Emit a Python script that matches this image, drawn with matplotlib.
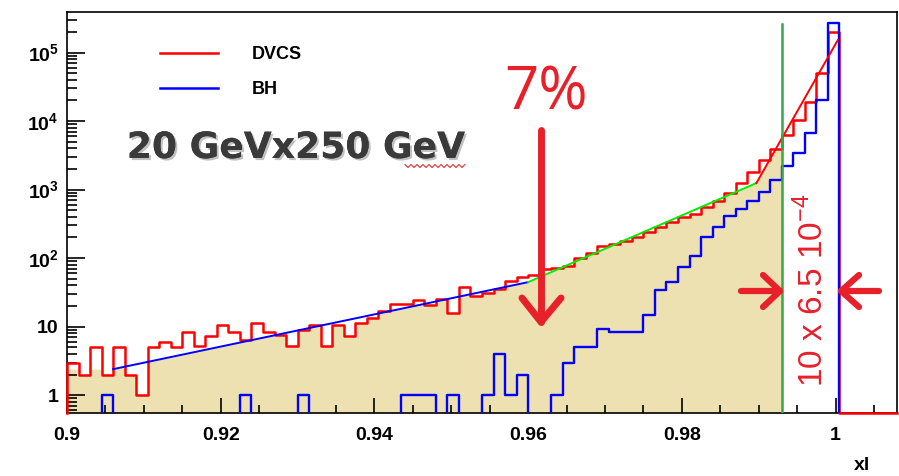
import numpy as np
import matplotlib
matplotlib.use('Agg')
import matplotlib.pyplot as plt
import matplotlib.patheffects as pe
from matplotlib.lines import Line2D
from matplotlib.ticker import LogLocator, MultipleLocator, NullFormatter

# xl distributions, 72 bins of 0.0015 from 0.9
X_LO, BIN_W, N_BINS = 0.9, 0.0015, 72
dvcs_counts = [3, 2, 5, 2, 5, 2, 1, 5, 6, 5,
               8.5, 5.3, 7.4, 10.5, 8.4, 6.4, 11.4, 8.4, 7.5, 5.3,
               8.9, 10.5, 5.2, 10.5, 7.3, 11.4, 13.6, 16.9, 21.5, 21.5,
               24.7, 20.6, 25.7, 15.8, 38, 27.8, 31.5, 36, 47, 53.5,
               56.5, 70, 72, 78, 100, 120, 150, 160, 180, 205,
               240, 285, 335, 400, 440, 550, 685, 900, 1260, 1830,
               2700, 3860, 6300, 10300, 18700, 51000, 200000, 0, 0, 0,
               0, 0]
bh_counts = [0, 0, 0, 1, 0, 0, 0, 0, 0, 0,
             0, 0, 0, 0, 0, 1, 0, 0, 0, 0,
             1, 0, 0, 0, 0, 0, 0, 0, 0, 1,
             1, 1, 0, 1, 0, 0, 1, 4, 1, 2,
             0, 0, 1, 3, 5, 5, 9.4, 8.4, 8.4, 8.4,
             14.7, 34, 45, 73, 107, 204, 280, 410, 520, 680,
             920, 1400, 2200, 3370, 6600, 20400, 270000, 0, 0, 0,
             0, 0]

# exponential fits (straight in log y), end points
fit_x = [0.906, 0.960, 0.9897, 1.0003]
fit_y = [2.4, 44.6, 1244, 1.52e5]
fit_colors = ['#0000ff', '#00ee00', '#ff0000']
X_CUT = 0.993

YMIN, YMAX = 0.55, 3.9e5
RED, BLUE, ANNO = '#ff0000', '#0000ff', '#e8202a'
FILL = '#ede0b1'

plt.rcParams.update({'mathtext.fontset': 'custom',
                     'mathtext.rm': 'Liberation Sans',
                     'mathtext.bf': 'Liberation Sans:bold'})

W, H = 899, 476
fig = plt.figure(figsize=(W / 100, H / 100), dpi=100)
ax = fig.add_axes([67 / W, 63 / H, 830 / W, 401 / H])
ax.set_yscale('log')
ax.set_xlim(X_LO, X_LO + N_BINS * BIN_W)
ax.set_ylim(YMIN, YMAX)

edges = X_LO + BIN_W * np.arange(N_BINS + 1)


def outline(counts, floor):
    v = np.asarray(counts, float)
    v = np.where(v > 0, v, floor)
    xs = np.repeat(edges, 2)
    ys = np.concatenate([[floor], np.repeat(v, 2), [floor]])
    return xs, ys


# shaded region below the fit up to the cut
xf = np.linspace(X_LO, X_CUT, 3000)
idx = np.clip(((xf - X_LO) / BIN_W).astype(int), 0, N_BINS - 1)
hist_f = np.asarray(dvcs_counts, float)[idx]
env = 10 ** np.interp(xf, fit_x, np.log10(fit_y))
top = np.minimum(hist_f, env)
ax.fill_between(xf, YMIN, top, color=FILL, lw=0, zorder=1)

xs, ys = outline(dvcs_counts, YMIN)
ax.plot(xs, ys, color=RED, lw=1.8, zorder=3, clip_on=False)
xs, ys = outline(bh_counts, 0.3)
ax.plot(xs, ys, color=BLUE, lw=1.7, zorder=3.2)

for i, c in enumerate(fit_colors):
    ax.plot(fit_x[i:i + 2], fit_y[i:i + 2], color=c, lw=1.4, zorder=4)

ax.plot([X_CUT, X_CUT], [YMIN, 2.6e5], color='#35a84a', lw=1.8, zorder=5)

# axes styling
ax.xaxis.set_major_locator(MultipleLocator(0.02))
ax.xaxis.set_minor_locator(MultipleLocator(0.005))
ax.set_xticks(np.arange(0.9, 1.001, 0.02),
              ['0.9', '0.92', '0.94', '0.96', '0.98', '1'])
ax.yaxis.set_major_locator(LogLocator(base=10, numticks=10))
ax.yaxis.set_minor_locator(LogLocator(base=10, subs=np.arange(2, 10), numticks=20))
ax.yaxis.set_minor_formatter(NullFormatter())
ax.set_yticks([1, 10, 1e2, 1e3, 1e4, 1e5],
              ['1', '10', r'$\mathbf{10^{2}}$', r'$\mathbf{10^{3}}$',
               r'$\mathbf{10^{4}}$', r'$\mathbf{10^{5}}$'])
for lab in ax.get_xticklabels() + ax.get_yticklabels():
    lab.set_fontfamily('Liberation Sans')
    lab.set_fontweight('bold')
    lab.set_fontsize(14)
ax.tick_params(axis='x', which='major', direction='in', length=11, width=1.2, pad=10)
ax.tick_params(axis='x', which='minor', direction='in', length=6, width=1.2)
ax.tick_params(axis='y', which='major', direction='in', length=13, width=1.2, pad=6)
ax.tick_params(axis='y', which='minor', direction='in', length=7, width=1.2)
for sp in ax.spines.values():
    sp.set_linewidth(1.2)
ax.set_ylim(YMIN, YMAX)

fig.text(862 / W, 1 - 466 / H, 'xl', ha='center', va='center',
         family='Liberation Sans', weight='bold', fontsize=14)

ax.legend(handles=[Line2D([], [], color=RED, lw=1.8), Line2D([], [], color=BLUE, lw=1.8)],
          labels=['DVCS', 'BH'], loc='upper left',
          bbox_to_anchor=(160 / W, 1 - 46 / H), bbox_transform=fig.transFigure,
          frameon=False, prop=dict(family='Liberation Sans', weight='bold', size=13),
          handlelength=3.2, handletextpad=1.9, labelspacing=1.0,
          borderpad=0, borderaxespad=0)


def px(x, y):
    return x / W, 1 - y / H


# beam energy label
fig.text(*px(296, 148), '20 GeVx250 GeV', ha='center', va='center',
         family='DejaVu Sans', weight='bold', fontsize=26, color='#3a3a3a',
         path_effects=[pe.withSimplePatchShadow(offset=(1.5, -1.5),
                                                shadow_rgbFace='#999999', alpha=0.6),
                       pe.Normal()])
sq_x = np.arange(405, 466, 3)
sq_y = 166 + np.where(np.arange(sq_x.size) % 2, 1.5, -1.5)
fig.add_artist(Line2D(sq_x / W, 1 - sq_y / H, color='#e03030', lw=0.8))

# 7% arrow
fig.text(*px(546, 93), '7%', ha='center', va='center', family='Open Sans',
         fontsize=43, color=ANNO)
arrow_kw = dict(color=ANNO, lw=5, solid_capstyle='round', solid_joinstyle='round')
fig.add_artist(Line2D(*zip(px(541, 130), px(541, 322)), **arrow_kw))
fig.add_artist(Line2D(*zip(px(522, 298), px(541, 322), px(561, 298)), **arrow_kw))

# gap between cut and xl = 1
side_kw = dict(color=ANNO, lw=4.5, solid_capstyle='round', solid_joinstyle='round')
fig.add_artist(Line2D(*zip(px(741, 291), px(780, 291)), **side_kw))
fig.add_artist(Line2D(*zip(px(763, 275), px(780, 291), px(763, 307)), **side_kw))
fig.add_artist(Line2D(*zip(px(879, 291), px(841, 291)), **side_kw))
fig.add_artist(Line2D(*zip(px(859, 275), px(841, 291), px(859, 307)), **side_kw))
fig.text(*px(812, 290), r'10 x 6.5 10$^{-4}$', rotation=90, ha='center', va='center',
         family='Liberation Sans', fontsize=24, color=ANNO)

fig.savefig('out.png', dpi=100)
